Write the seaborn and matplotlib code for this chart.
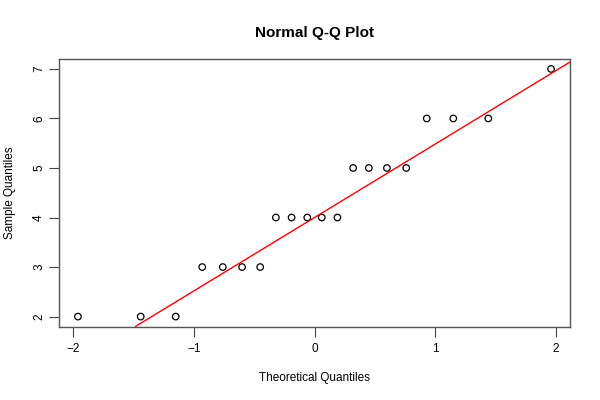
import matplotlib
matplotlib.use("Agg")
import matplotlib.pyplot as plt
import seaborn as sns

# Q-Q data
theoretical = [-1.96, -1.44, -1.15, -0.93, -0.76, -0.60, -0.45, -0.32, -0.19, -0.06,
               0.06, 0.19, 0.32, 0.45, 0.60, 0.76, 0.93, 1.15, 1.44, 1.96]
sample = [2, 2, 2, 3, 3, 3, 3, 4, 4, 4, 4, 4, 5, 5, 5, 5, 6, 6, 6, 7]
line_intercept = 4.0
line_slope = 1.4826
x_ticks = [-2, -1, 0, 1, 2]
y_ticks = [2, 3, 4, 5, 6, 7]

sns.set_style("white")
plt.rcParams['font.family'] = ['Liberation Sans', 'DejaVu Sans']
plt.rcParams['text.color'] = 'black'
plt.rcParams['axes.labelcolor'] = 'black'

fig = plt.figure(figsize=(6, 4), dpi=100)
ax = fig.add_axes([59 / 600, 1 - 326.5 / 400, 511 / 600, 267.5 / 400])

sns.scatterplot(x=theoretical, y=sample, ax=ax, marker='o', s=22,
                facecolor='none', edgecolor='black', linewidth=0.9)
ax.axline((0, line_intercept), slope=line_slope, color='red', linewidth=1)

ax.set_xlim(-2.117, 2.117)
ax.set_ylim(1.8, 7.2)
ax.set_xticks(x_ticks)
ax.set_xticklabels(['\u22122', '\u22121', '0', '1', '2'])
ax.set_yticks(y_ticks)
ax.set_yticklabels([str(v) for v in y_ticks], rotation=90, va='center')
ax.tick_params(direction='out', length=7, width=0.8, colors='#444444',
               labelcolor='black', labelsize=8.5, pad=5, left=True, bottom=True)
ax.tick_params(axis='y', pad=3)
for sp in ax.spines.values():
    sp.set_color('#555555')
    sp.set_linewidth(1)

ax.set_xlabel('Theoretical Quantiles', fontsize=8.5, labelpad=12)
ax.set_ylabel('Sample Quantiles', fontsize=8.5, labelpad=12)
ax.set_title('Normal Q-Q Plot', fontsize=11, fontweight='bold', pad=16)

fig.savefig('out.png', dpi=100)
